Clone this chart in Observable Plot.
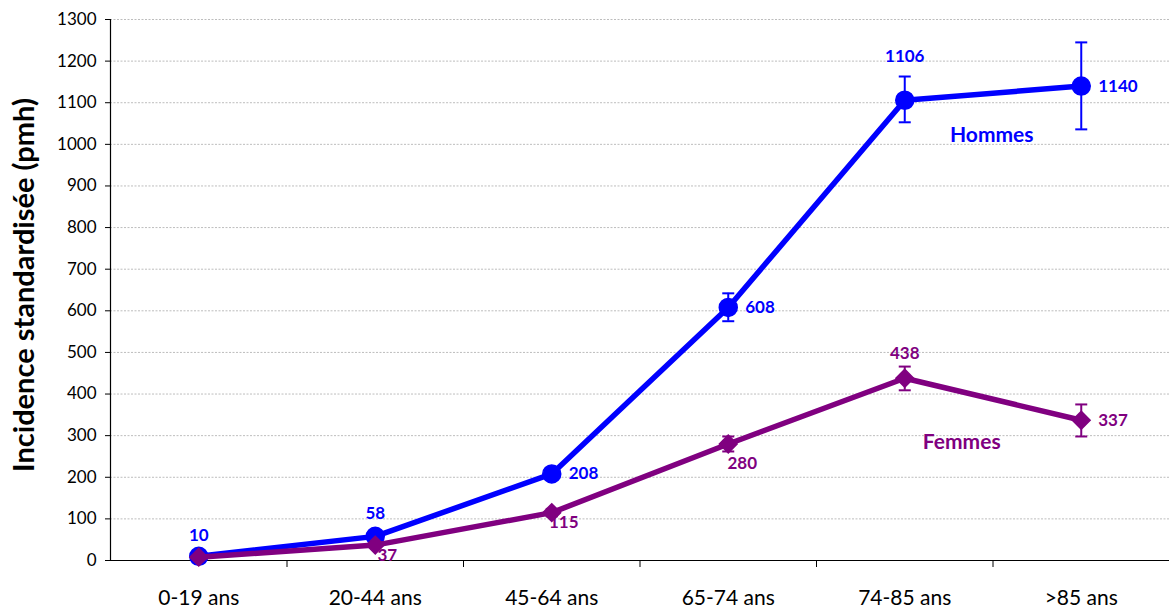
<!DOCTYPE html>
<html><head><meta charset="utf-8">
<script src="https://cdn.jsdelivr.net/npm/d3@7"></script>
<script src="https://cdn.jsdelivr.net/npm/@observablehq/plot@0.6"></script>
<style>body{margin:0;background:#fff;} svg{display:block}</style>
</head><body><div id="chart"></div>
<script>
const categories = ["0-19 ans", "20-44 ans", "45-64 ans", "65-74 ans", "74-85 ans", ">85 ans"];
const hommes     = [10, 58, 208, 608, 1106, 1140];
const hommesLow  = [8, 52, 197, 575, 1053, 1036];
const hommesHigh = [12, 64, 219, 642, 1163, 1245];
const femmes     = [8, 37, 115, 280, 438, 337];
const femmesLow  = [6, 32, 106, 262, 409, 298];
const femmesHigh = [10, 42, 124, 298, 466, 375];
const yTicks = [0, 100, 200, 300, 400, 500, 600, 700, 800, 900, 1000, 1100, 1200, 1300];
const hommesLabelPos = ["above", "above", "right", "right", "above", "right"];
const femmesLabelPos = [null, "belowRight", "belowRight", "below", "above", "right"];
const yTitle = "Incidence standardisée (pmh)";

const BLUE = "#0000FF", PURPLE = "#800080";
const FONT = "Lato, 'Open Sans', sans-serif";

const rows = (vals, lo, hi, pos, serie) =>
  categories.map((c, i) => ({i, cat: c, v: vals[i], lo: lo[i], hi: hi[i], pos: pos[i], serie}));
const H = rows(hommes, hommesLow, hommesHigh, hommesLabelPos, "Hommes");
const F = rows(femmes, femmesLow, femmesHigh, femmesLabelPos, "Femmes");

const capSymbol = {draw(ctx, size) { const r = Math.sqrt(size / Math.PI); ctx.moveTo(-r, 0); ctx.lineTo(r, 0); }};

function errMarks(data, color) {
  return [
    Plot.ruleX(data, {x: "i", y1: "lo", y2: "hi", stroke: color, strokeWidth: 2}),
    Plot.dot(data, {x: "i", y: "lo", symbol: capSymbol, r: 6, stroke: color, strokeWidth: 2, fill: "none"}),
    Plot.dot(data, {x: "i", y: "hi", symbol: capSymbol, r: 6, stroke: color, strokeWidth: 2, fill: "none"})
  ];
}
function labelMarks(data, color, aboveDy) {
  const common = {text: d => String(d.v), fill: color, fontWeight: "bold", fontSize: 17, fontFamily: FONT};
  return [
    Plot.text(data.filter(d => d.pos === "above"), {...common, x: "i", y: "hi", dy: aboveDy}),
    Plot.text(data.filter(d => d.pos === "right"), {...common, x: "i", y: "v", dx: 17, textAnchor: "start"}),
    Plot.text(data.filter(d => d.pos === "belowRight"), {...common, x: "i", y: "v", dx: 12, dy: 10}),
    Plot.text(data.filter(d => d.pos === "below"), {...common, x: "i", y: "v", dx: 14, dy: 20})
  ];
}

const chart = Plot.plot({
  width: 1169,
  height: 612,
  marginLeft: 110,
  marginRight: 0,
  marginTop: 19,
  marginBottom: 52,
  style: {fontFamily: FONT, background: "#fff", color: "#000"},
  x: {type: "linear", domain: [-0.5, categories.length - 0.5]},
  y: {domain: [0, 1300]},
  marks: [
    Plot.gridY(yTicks.filter(t => t > 0), {stroke: "#bdbdbd", strokeOpacity: 1, strokeDasharray: "2,1.5", strokeWidth: 1}),
    Plot.axisY({ticks: yTicks, tickSize: 5, tickPadding: 9, fontSize: 17, label: null, tickFormat: d => String(d)}),
    Plot.axisX({ticks: d3.range(0.5, categories.length - 0.5, 1), tickSize: 7, tickFormat: () => "", label: null}),
    Plot.axisX({ticks: d3.range(categories.length), tickSize: 0, tickPadding: 30, fontSize: 21, label: null, tickFormat: i => categories[i]}),
    Plot.ruleX([-0.5], {stroke: "#000", strokeWidth: 1.2}),
    Plot.ruleY([0], {stroke: "#000", strokeWidth: 1.2}),
    Plot.text([yTitle], {frameAnchor: "left", textAnchor: "middle", rotate: -90, dx: -86, dy: -5, fontSize: 29, fontWeight: "bold", fontFamily: FONT, fill: "#000"}),
    // Hommes
    Plot.line(H, {x: "i", y: "v", stroke: BLUE, strokeWidth: 5.5}),
    ...errMarks(H, BLUE),
    Plot.dot(H, {x: "i", y: "v", r: 9, fill: BLUE, stroke: BLUE}),
    ...labelMarks(H, BLUE, -20),
    // Femmes
    Plot.line(F, {x: "i", y: "v", stroke: PURPLE, strokeWidth: 5.5}),
    ...errMarks(F, PURPLE),
    Plot.dot(F, {x: "i", y: "v", r: 8, symbol: "diamond2", fill: PURPLE, stroke: PURPLE}),
    ...labelMarks(F, PURPLE, -13),
    // series labels
    Plot.text([H[4]], {x: "i", y: "v", text: d => d.serie, dx: 87, dy: 35, fill: BLUE, fontWeight: "bold", fontSize: 21, fontFamily: FONT}),
    Plot.text([F[4]], {x: "i", y: "v", text: d => d.serie, dx: 57, dy: 64, fill: PURPLE, fontWeight: "bold", fontSize: 21, fontFamily: FONT})
  ]
});
document.getElementById("chart").append(chart);
</script>
</body></html>
